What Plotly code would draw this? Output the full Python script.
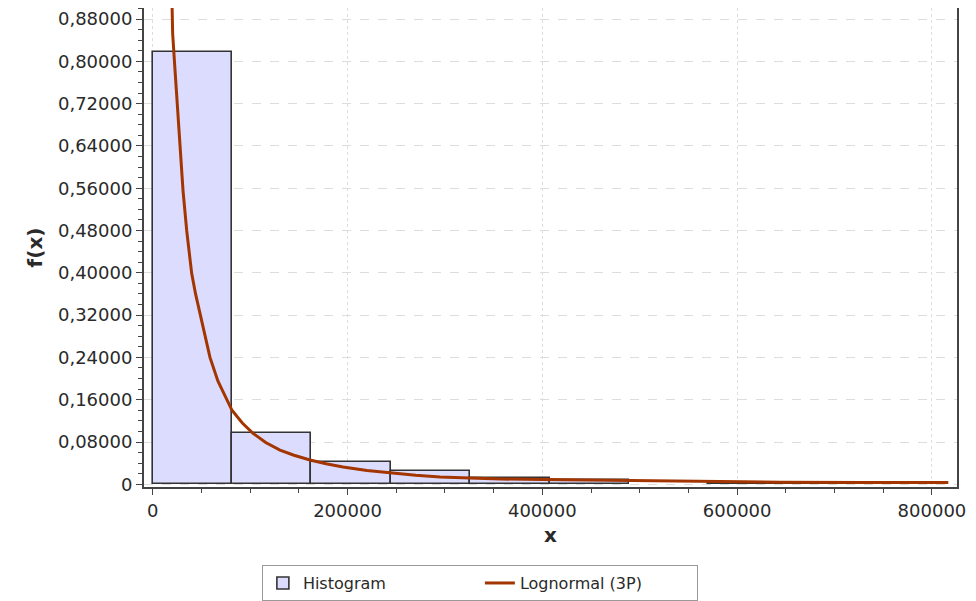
import plotly.graph_objects as go

# Histogram bins (left edges, width) and relative frequencies
bin_edges = [0, 81500, 163000, 244500, 326000, 407500, 489000, 570500, 652000, 733500, 815000]
bin_heights = [0.817, 0.0963, 0.0427, 0.0251, 0.0125, 0.0078, None, 0.0022, 0.0022, None]

# Lognormal (3P) fitted curve
curve_x = [19000, 19500, 20500, 22600, 25000, 28000, 31100, 34900, 36800, 40000, 44000, 48600,
           53500, 58800, 67000, 76300, 81400, 92000, 103000, 116000, 130700, 145000, 161500,
           178000, 195400, 220000, 243700, 270000, 295000, 325000, 356700, 400000, 438800,
           490000, 560000, 644000, 730000, 816800]
curve_y = [0.98, 0.92, 0.852, 0.792, 0.726, 0.631, 0.556, 0.480, 0.451, 0.399, 0.360, 0.324,
           0.280, 0.240, 0.195, 0.159, 0.140, 0.116, 0.0965, 0.079, 0.0648, 0.055, 0.0459,
           0.039, 0.0327, 0.026, 0.0213, 0.0170, 0.0138, 0.0118, 0.0100, 0.0090, 0.0081,
           0.0066, 0.0050, 0.0040, 0.0036, 0.0034]

y_tickvals = [0, 0.08, 0.16, 0.24, 0.32, 0.40, 0.48, 0.56, 0.64, 0.72, 0.80, 0.88]
y_ticktext = ["0", "0,08000", "0,16000", "0,24000", "0,32000", "0,40000", "0,48000",
              "0,56000", "0,64000", "0,72000", "0,80000", "0,88000"]
x_tickvals = [0, 200000, 400000, 600000, 800000]
x_ticktext = ["0", "200000", "400000", "600000", "800000"]

centers = [(bin_edges[i] + bin_edges[i + 1]) / 2 for i in range(len(bin_heights))]
widths = [bin_edges[i + 1] - bin_edges[i] for i in range(len(bin_heights))]

FONT = "DejaVu Sans, Arial, sans-serif"
TXT = "#2a2a2a"

fig = go.Figure()
fig.add_trace(go.Bar(
    x=centers, y=bin_heights, width=widths, name="Histogram",
    marker=dict(color="#DCDCFF", line=dict(color="#333333", width=1.6)),
))
fig.add_trace(go.Scatter(
    x=curve_x, y=curve_y, mode="lines", name="Lognormal (3P)",
    line=dict(color="#A33500", width=3),
))

# page body has an 8px default margin, so the figure is sized/placed to compensate
fig.update_layout(
    width=968, height=593,
    margin=dict(l=136, r=19, t=0, b=114, autoexpand=False),
    paper_bgcolor="white", plot_bgcolor="white",
    font=dict(family=FONT, size=17, color=TXT),
    showlegend=True,
    bargap=0,
    legend=dict(
        orientation="h", x=0.145, y=-0.163, xanchor="left", yanchor="top",
        bordercolor="#9a9a9a", borderwidth=1, bgcolor="white",
        font=dict(family=FONT, size=16, color=TXT),
        entrywidth=172, traceorder="normal",
        itemwidth=30, tracegroupgap=0,
    ),
)

fig.update_xaxes(
    range=[-8935, 825700], automargin=False,
    tickvals=x_tickvals, ticktext=x_ticktext,
    tickfont=dict(family=FONT, size=18, color=TXT),
    ticks="outside", ticklen=6, tickcolor="#444", tickwidth=1,
    minor=dict(dtick=50000, ticks="outside", ticklen=4, tickcolor="#444", showgrid=False),
    showline=True, linecolor="#444", linewidth=2, mirror=True,
    showgrid=True, gridcolor="#dddddd", griddash="dot", gridwidth=1,
    zeroline=False,
    title=dict(text="<b>x</b>", font=dict(family=FONT, size=20, color=TXT), standoff=8),
)
fig.update_yaxes(
    range=[-0.0051, 0.9008], automargin=False,
    tickvals=y_tickvals, ticktext=y_ticktext,
    tickfont=dict(family=FONT, size=18, color=TXT),
    ticks="outside", ticklen=6, tickcolor="#444", tickwidth=1,
    minor=dict(dtick=0.02, tick0=0, ticks="outside", ticklen=4, tickcolor="#444", showgrid=False),
    showline=True, linecolor="#444", linewidth=2, mirror=True,
    showgrid=True, gridcolor="#dddddd", griddash="dash", gridwidth=1,
    zeroline=False,
    title=dict(text="<b>f(x)</b>", font=dict(family=FONT, size=20, color=TXT), standoff=10),
)

fig.write_html("out.html")
